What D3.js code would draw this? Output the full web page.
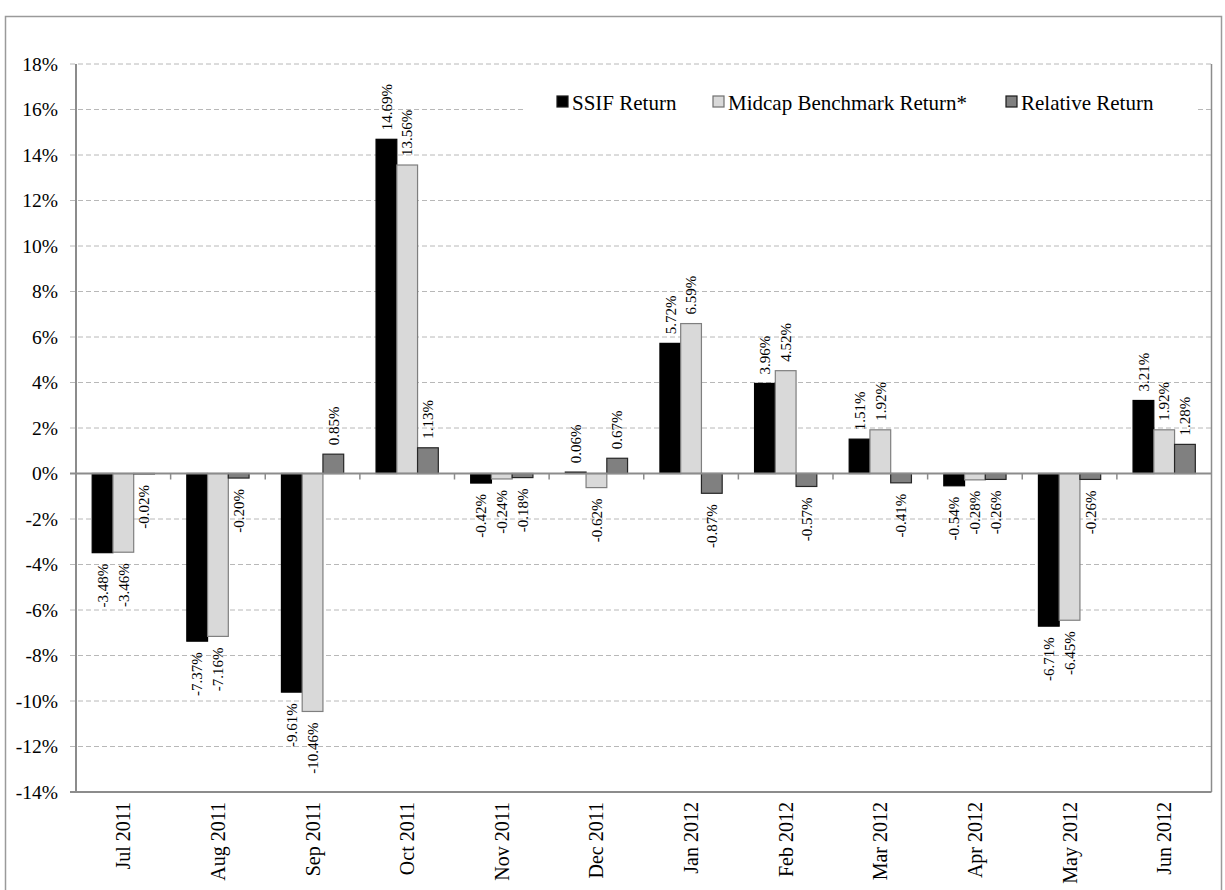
<!DOCTYPE html>
<html>
<head>
<meta charset="utf-8">
<script src="https://cdn.jsdelivr.net/npm/d3@7"></script>
<style>
  body { margin: 0; background: #fff; }
  svg { display: block; font-family: "Liberation Serif", "Times New Roman", serif; }
</style>
</head>
<body>
<div id="chart"></div>
<script>
var months = ["Jul 2011","Aug 2011","Sep 2011","Oct 2011","Nov 2011","Dec 2011",
              "Jan 2012","Feb 2012","Mar 2012","Apr 2012","May 2012","Jun 2012"];
var seriesNames = ["SSIF Return","Midcap Benchmark Return*","Relative Return"];
var ssifReturn = [-3.48,-7.37,-9.61,14.69,-0.42,0.06,5.72,3.96,1.51,-0.54,-6.71,3.21];
var midcapReturn = [-3.46,-7.16,-10.46,13.56,-0.24,-0.62,6.59,4.52,1.92,-0.28,-6.45,1.92];
var relativeReturn = [-0.02,-0.20,0.85,1.13,-0.18,0.67,-0.87,-0.57,-0.41,-0.26,-0.26,1.28];
var yTicks = [18,16,14,12,10,8,6,4,2,0,-2,-4,-6,-8,-10,-12,-14];

var canvasWidth = 1225;
var canvasHeight = 890;

var svg = d3.select("#chart")
    .append("svg")
    .attr("width", canvasWidth)
    .attr("height", canvasHeight);

/*outer frame*/
svg.append("rect")
    .attr("x", 5.5).attr("y", 16.5)
    .attr("width", 1216).attr("height", 900)
    .attr("fill", "none")
    .attr("stroke", "#9a9a9a")
    .attr("stroke-width", 1.5);

var plotLeft = 76, plotRight = 1211.5, plotTop = 64, plotBottom = 792;

var yScale = d3.scaleLinear().domain([-14, 18]).range([plotBottom, plotTop]);
var xScale = d3.scaleBand().domain(months).range([plotLeft, plotRight]);
var xInner = d3.scaleBand().domain(seriesNames).range([0, xScale.bandwidth()]).paddingOuter(0.78);

var fills = {"SSIF Return": "#000000", "Midcap Benchmark Return*": "#d9d9d9", "Relative Return": "#808080"};
var strokes = {"SSIF Return": "#000000", "Midcap Benchmark Return*": "#7f7f7f", "Relative Return": "#262626"};

/*gridlines + y ticks*/
svg.append("g")
    .selectAll("line")
    .data(yTicks.filter(function(t){ return t !== 0 && t !== -14; }))
    .join("line")
    .attr("x1", plotLeft - 6).attr("x2", plotRight)
    .attr("y1", function(d){ return yScale(d); })
    .attr("y2", function(d){ return yScale(d); })
    .attr("stroke", "#b8b8b8")
    .attr("stroke-width", 1)
    .attr("stroke-dasharray", "5,3");

/*legend box (hides gridline)*/
svg.append("rect")
    .attr("x", 524).attr("y", 66)
    .attr("width", 672).attr("height", 74)
    .attr("fill", "#fff");

/*y labels*/
svg.append("g")
    .selectAll("text")
    .data(yTicks)
    .join("text")
    .attr("x", 58)
    .attr("y", function(d){ return yScale(d); })
    .attr("dy", "0.35em")
    .attr("text-anchor", "end")
    .style("font-size", "19.5px")
    .text(function(d){ return d + "%"; });

/*bars*/
var rows = [];
months.forEach(function(m, i) {
    rows.push({month: m, name: seriesNames[0], value: ssifReturn[i]});
    rows.push({month: m, name: seriesNames[1], value: midcapReturn[i]});
    rows.push({month: m, name: seriesNames[2], value: relativeReturn[i]});
});

svg.append("g")
    .selectAll("rect")
    .data(rows)
    .join("rect")
    .attr("x", function(d){ return xScale(d.month) + xInner(d.name); })
    .attr("width", xInner.bandwidth())
    .attr("y", function(d){ return yScale(Math.max(0, d.value)); })
    .attr("height", function(d){ return Math.abs(yScale(d.value) - yScale(0)); })
    .attr("fill", function(d){ return fills[d.name]; })
    .attr("stroke", function(d){ return strokes[d.name]; })
    .attr("stroke-width", 1.2);

/*value labels*/
svg.append("g")
    .selectAll("text")
    .data(rows)
    .join("text")
    .attr("transform", function(d){
        var cx = xScale(d.month) + xInner(d.name) + xInner.bandwidth() / 2;
        var cy = d.value >= 0 ? yScale(d.value) - 9 : yScale(d.value) + 11;
        return "translate(" + cx + "," + cy + ") rotate(-90)";
    })
    .attr("dy", "0.35em")
    .attr("text-anchor", function(d){ return d.value >= 0 ? "start" : "end"; })
    .style("font-size", "15px")
    .text(function(d){ return d.value.toFixed(2) + "%"; });

/*axes lines*/
var axisColor = "#8c8c8c";
svg.append("line")
    .attr("x1", plotLeft).attr("x2", plotLeft)
    .attr("y1", plotTop).attr("y2", plotBottom)
    .attr("stroke", axisColor).attr("stroke-width", 2);
svg.append("line")
    .attr("x1", plotRight).attr("x2", plotRight)
    .attr("y1", plotTop).attr("y2", plotBottom)
    .attr("stroke", axisColor).attr("stroke-width", 1.5);
svg.append("line")
    .attr("x1", plotLeft - 6).attr("x2", plotRight)
    .attr("y1", yScale(-14)).attr("y2", yScale(-14))
    .attr("stroke", axisColor).attr("stroke-width", 2);
svg.append("line")
    .attr("x1", plotLeft - 6).attr("x2", plotRight)
    .attr("y1", yScale(0)).attr("y2", yScale(0))
    .attr("stroke", axisColor).attr("stroke-width", 2);

/*category ticks on zero line*/
svg.append("g")
    .selectAll("line")
    .data(months.slice(1))
    .join("line")
    .attr("x1", function(d){ return xScale(d); })
    .attr("x2", function(d){ return xScale(d); })
    .attr("y1", yScale(0)).attr("y2", yScale(0) + 6)
    .attr("stroke", axisColor).attr("stroke-width", 1.5);

/*x labels*/
svg.append("g")
    .selectAll("text")
    .data(months)
    .join("text")
    .attr("transform", function(d){
        return "translate(" + (xScale(d) + xScale.bandwidth() / 2) + "," + 802 + ") rotate(-90)";
    })
    .attr("dy", "0.35em")
    .attr("text-anchor", "end")
    .style("font-size", "20px")
    .text(function(d){ return d; });

/*legend*/
var legendX = [557, 713, 1006];
var legend = svg.append("g");
seriesNames.forEach(function(name, i) {
    legend.append("rect")
        .attr("x", legendX[i]).attr("y", 96)
        .attr("width", 11).attr("height", 11)
        .attr("fill", fills[name])
        .attr("stroke", strokes[name] === "#7f7f7f" ? "#6f6f6f" : "#1a1a1a")
        .attr("stroke-width", 1.2);
    legend.append("text")
        .attr("x", legendX[i] + 15).attr("y", 110)
        .style("font-size", "21px")
        .text(name);
});
</script>
</body>
</html>
